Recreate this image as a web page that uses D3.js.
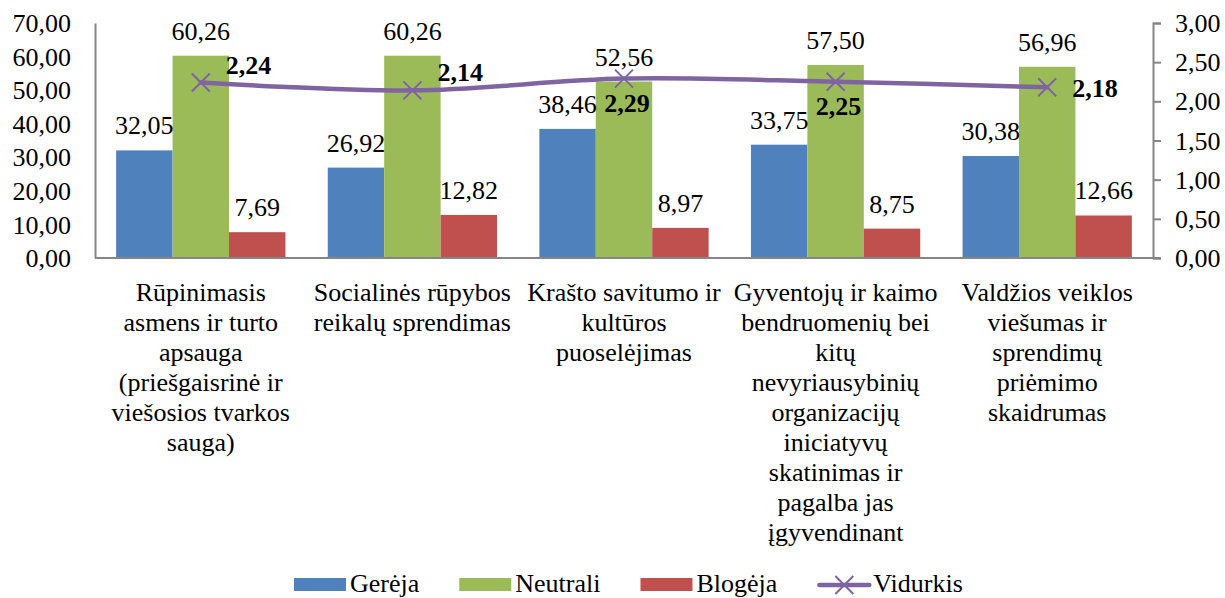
<!DOCTYPE html>
<html>
<head>
<meta charset="utf-8">
<script src="https://cdn.jsdelivr.net/npm/d3@7"></script>
<style>
  html, body { margin: 0; padding: 0; background: #fff; }
</style>
</head>
<body>
<svg id="chart" width="1225" height="598"></svg>
<script>
const categoryLines = [
    ['Rūpinimasis', 'asmens ir turto', 'apsauga', '(priešgaisrinė ir', 'viešosios tvarkos', 'sauga)'],
    ['Socialinės rūpybos', 'reikalų sprendimas'],
    ['Krašto savitumo ir', 'kultūros', 'puoselėjimas'],
    ['Gyventojų ir kaimo', 'bendruomenių bei', 'kitų', 'nevyriausybinių', 'organizacijų', 'iniciatyvų', 'skatinimas ir', 'pagalba jas', 'įgyvendinant'],
    ['Valdžios veiklos', 'viešumas ir', 'sprendimų', 'priėmimo', 'skaidrumas']
];
const seriesNames = ['Gerėja', 'Neutrali', 'Blogėja'];
const gereja = [32.05, 26.92, 38.46, 33.75, 30.38];
const neutrali = [60.26, 60.26, 52.56, 57.50, 56.96];
const blogeja = [7.69, 12.82, 8.97, 8.75, 12.66];
const lineName = 'Vidurkis';
const vidurkis = [2.24, 2.14, 2.29, 2.25, 2.18];
const leftTicks = [0, 10, 20, 30, 40, 50, 60, 70];
const rightTicks = [0, 0.5, 1, 1.5, 2, 2.5, 3];

// where each Vidurkis label sits relative to its point
const avgLabelPos = ['upright', 'upright', 'below', 'below', 'right'];

const colors = ['#4F81BD', '#9BBB59', '#C0504D'];
const purple = '#8064A2';
const axisColor = '#868686';
const fontSize = 26;
const serif = 'Liberation Serif';

const svg = d3.select('#chart');
const plotLeft = 95, plotRight = 1153, plotTop = 23, plotBottom = 258;

const cats = categoryLines.map((d, i) => 'c' + i);
const x0 = d3.scaleBand().domain(cats).range([plotLeft, plotRight]).padding(0);
const x1 = d3.scaleBand().domain(seriesNames).range([0, x0.bandwidth()]).paddingInner(0).paddingOuter(0.375);
const y = d3.scaleLinear().domain([0, 70]).range([plotBottom, plotTop]);
const y2 = d3.scaleLinear().domain([0, 3]).range([plotBottom, plotTop]);

const fmt = v => d3.format('.2f')(v).replace('.', ',');

const seriesData = [gereja, neutrali, blogeja];

// bars
seriesData.forEach((vals, si) => {
    svg.append('g').selectAll('rect')
        .data(vals)
        .join('rect')
        .attr('x', (d, i) => x0(cats[i]) + x1(seriesNames[si]))
        .attr('y', d => y(d))
        .attr('width', x1.bandwidth())
        .attr('height', d => plotBottom - y(d))
        .attr('fill', colors[si]);
});

// axes
const leftAxis = svg.append('g')
    .attr('transform', `translate(${plotLeft},0)`)
    .call(d3.axisLeft(y).tickValues(leftTicks).tickSize(0).tickPadding(24).tickFormat(fmt));
const rightAxis = svg.append('g')
    .attr('transform', `translate(${plotRight},0)`)
    .call(d3.axisRight(y2).tickValues(rightTicks).tickSize(8).tickSizeOuter(8).tickPadding(14).tickFormat(fmt));
[leftAxis, rightAxis].forEach(a => {
    a.select('.domain').attr('stroke', axisColor).attr('stroke-width', 2);
    a.selectAll('.tick line').attr('stroke', axisColor).attr('stroke-width', 2);
    a.selectAll('text')
        .attr('font-family', serif)
        .attr('font-size', fontSize)
        .attr('fill', '#000')
        .attr('dy', '0.33em');
});
svg.append('line')
    .attr('x1', plotLeft).attr('x2', plotRight + 8)
    .attr('y1', plotBottom).attr('y2', plotBottom)
    .attr('stroke', axisColor).attr('stroke-width', 2);

// bar value labels
seriesData.forEach((vals, si) => {
    svg.append('g').selectAll('text')
        .data(vals)
        .join('text')
        .attr('x', (d, i) => x0(cats[i]) + x1(seriesNames[si]) + x1.bandwidth() / 2)
        .attr('y', d => y(d) - 16)
        .attr('text-anchor', 'middle')
        .attr('font-family', serif)
        .attr('font-size', fontSize)
        .text(d => fmt(d));
});

// category labels
const catG = svg.append('g');
categoryLines.forEach((lines, i) => {
    const t = catG.append('text')
        .attr('x', x0(cats[i]) + x0.bandwidth() / 2)
        .attr('y', 292 + 9)
        .attr('text-anchor', 'middle')
        .attr('font-family', serif)
        .attr('font-size', fontSize);
    lines.forEach((ln, j) => {
        t.append('tspan')
            .attr('x', x0(cats[i]) + x0.bandwidth() / 2)
            .attr('dy', j === 0 ? 0 : 30)
            .text(ln);
    });
});

// average line
const cx = i => x0(cats[i]) + x0.bandwidth() / 2;
const line = d3.line()
    .x((d, i) => cx(i))
    .y(d => y2(d))
    .curve(d3.curveCatmullRom.alpha(0.5));
svg.append('path')
    .datum(vidurkis)
    .attr('fill', 'none')
    .attr('stroke', purple)
    .attr('stroke-width', 4.5)
    .attr('stroke-linecap', 'round')
    .attr('d', line);

const m = 9;
svg.append('g').selectAll('path')
    .data(vidurkis)
    .join('path')
    .attr('d', (d, i) => {
        const px = cx(i), py = y2(d);
        return `M${px - m},${py - m}L${px + m},${py + m}M${px - m},${py + m}L${px + m},${py - m}`;
    })
    .attr('stroke', purple)
    .attr('stroke-width', 2)
    .attr('fill', 'none');

svg.append('g').selectAll('text')
    .data(vidurkis)
    .join('text')
    .attr('x', (d, i) => avgLabelPos[i] === 'below' ? cx(i) + 3 : cx(i) + 25)
    .attr('y', (d, i) => {
        const py = y2(d);
        if (avgLabelPos[i] === 'below') return py + 24 + 9;
        if (avgLabelPos[i] === 'upright') return py - 18 + 9;
        return py + 1 + 9;
    })
    .attr('text-anchor', (d, i) => avgLabelPos[i] === 'below' ? 'middle' : 'start')
    .attr('font-family', serif)
    .attr('font-size', fontSize)
    .attr('font-weight', 'bold')
    .text(d => fmt(d));

// legend
const legend = svg.append('g');
const legY = 585;
let lx = 294;
const legendItems = seriesNames.map((n, i) => ({ name: n, color: colors[i], type: 'bar' }))
    .concat([{ name: lineName, color: purple, type: 'line' }]);
legendItems.forEach(item => {
    if (item.type === 'bar') {
        legend.append('rect')
            .attr('x', lx).attr('y', legY - 7)
            .attr('width', 52).attr('height', 13)
            .attr('fill', item.color);
    } else {
        legend.append('line')
            .attr('x1', lx + 2).attr('x2', lx + 52)
            .attr('y1', legY).attr('y2', legY)
            .attr('stroke', item.color).attr('stroke-width', 4.5)
            .attr('stroke-linecap', 'round');
        const mx = lx + 27;
        legend.append('path')
            .attr('d', `M${mx - m},${legY - m}L${mx + m},${legY + m}M${mx - m},${legY + m}L${mx + m},${legY - m}`)
            .attr('stroke', item.color).attr('stroke-width', 2);
    }
    const t = legend.append('text')
        .attr('x', lx + 56)
        .attr('y', legY + 7)
        .attr('font-family', serif)
        .attr('font-size', fontSize)
        .text(item.name);
    lx += 56 + t.node().getComputedTextLength() + 40;
});
</script>
</body>
</html>
